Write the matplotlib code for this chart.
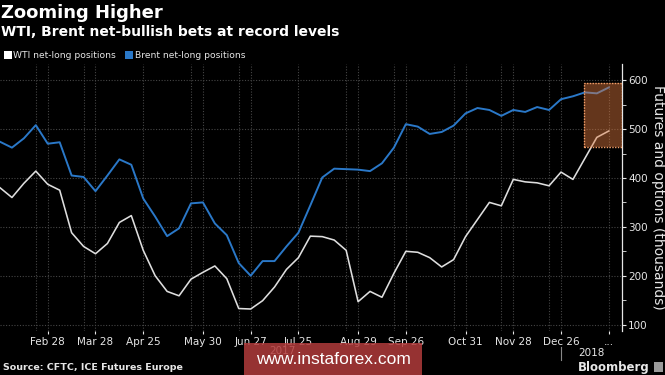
import matplotlib
matplotlib.use('Agg')
import matplotlib.pyplot as plt
import matplotlib.dates as mdates
from matplotlib.patches import Rectangle
import pandas as pd

# weekly CFTC / ICE positions, thousands of contracts
weeks = pd.date_range('2017-01-31', periods=52, freq='7D')
wti = [380, 360, 389, 414, 387, 375, 288, 260, 245, 266, 309, 323, 252,
       200, 168, 159, 193, 207, 220, 194, 133, 132, 149, 177, 213, 237,
       281, 280, 273, 252, 147, 168, 156, 205, 250, 248, 237, 218, 233,
       280, 315, 350, 343, 397, 392, 390, 384, 412, 397, 440, 483, 496]
brent = [474, 462, 481, 508, 470, 473, 405, 402, 373, 405, 438, 427, 358,
         321, 281, 297, 348, 350, 307, 283, 226, 200, 230, 230, 260, 288,
         344, 401, 419, 418, 417, 414, 430, 462, 510, 505, 490, 494, 507,
         532, 543, 539, 527, 539, 535, 545, 539, 561, 567, 575, 573, 585]

tick_dates = ['2017-02-28', '2017-03-28', '2017-04-25', '2017-05-30', '2017-06-27',
              '2017-07-25', '2017-08-29', '2017-09-26', '2017-10-31', '2017-11-28',
              '2017-12-26', '2018-01-23']
tick_labels = ['Feb 28', 'Mar 28', 'Apr 25', 'May 30', 'Jun 27', 'Jul 25',
               'Aug 29', 'Sep 26', 'Oct 31', 'Nov 28', 'Dec 26', '...']
extra_grid = ['2017-02-21', '2017-03-21', '2017-05-23', '2017-06-20', '2017-08-22',
              '2017-09-19', '2017-10-24', '2017-11-21', '2017-12-19']

BG = 'black'
FG = '#e6e6e6'
GRID = '#454545'
BLUE = '#2a78c8'
WHITE_LINE = '#dedede'

fig = plt.figure(figsize=(6.65, 3.75), dpi=100, facecolor=BG)
ax = fig.add_axes([0.0, 0.1173, 0.9353, 0.7120], facecolor=BG)

ax.plot(weeks, wti, color=WHITE_LINE, lw=1.15, zorder=3)
ax.plot(weeks, brent, color=BLUE, lw=1.4, zorder=3)

ax.set_xlim(pd.Timestamp('2017-01-31'), pd.Timestamp('2018-01-30 18:00'))
ax.set_ylim(87, 633)

# grid
for v in range(100, 700, 100):
    ax.axhline(v, color=GRID, lw=0.8, ls=(0, (1, 1.5)), zorder=1)
for d in tick_dates + extra_grid:
    ax.axvline(pd.Timestamp(d), color=GRID, lw=0.8, ls=(0, (1, 1.5)), zorder=1)

ax.set_xticks([pd.Timestamp(d) for d in tick_dates])
ax.set_xticklabels(tick_labels)
ax.tick_params(axis='x', colors=FG, labelsize=7.5, length=2.5, pad=2)

ax.yaxis.tick_right()
ax.set_yticks(range(100, 700, 100))
ax.set_yticks(range(150, 650, 100), minor=True)
ax.tick_params(axis='y', which='both', colors=FG, labelsize=7.5, length=3, pad=1.5)
ax.yaxis.set_label_position('right')
ax.set_ylabel('Futures and options (thousands)', color=FG, fontsize=10,
              rotation=270, labelpad=12)

for s in ['top', 'left', 'bottom']:
    ax.spines[s].set_visible(False)
ax.spines['right'].set_color(FG)
ax.spines['right'].set_linewidth(0.9)

# highlight box on latest weeks
x0 = mdates.date2num(pd.Timestamp('2018-01-08 15:00'))
x1 = mdates.date2num(pd.Timestamp('2018-01-30 18:00'))
ax.add_patch(Rectangle((x0, 463), x1 - x0, 132, facecolor='#e07a3f', alpha=0.45,
                       edgecolor='none', zorder=4))
ax.add_patch(Rectangle((x0, 463), x1 - x0, 132, facecolor='none',
                       edgecolor='#f4a06a', lw=1.0, ls=(0, (1, 1)), zorder=5))

# titles and legend
fig.text(0.002, 1 - 13 / 375, 'Zooming Higher', color='white', fontsize=13,
         fontweight='bold', va='center', ha='left')
fig.text(0.002, 1 - 32 / 375, 'WTI, Brent net-bullish bets at record levels', color='white',
         fontsize=10, fontweight='bold', va='center', ha='left')
fig.patches.append(Rectangle((4 / 665, 1 - 59 / 375), 8 / 665, 8 / 375,
                             transform=fig.transFigure, facecolor='white'))
fig.text(13 / 665, 1 - 55 / 375, 'WTI net-long positions', color=FG, fontsize=6.6,
         va='center', ha='left')
fig.patches.append(Rectangle((125 / 665, 1 - 59 / 375), 8 / 665, 8 / 375,
                             transform=fig.transFigure, facecolor=BLUE))
fig.text(135 / 665, 1 - 55 / 375, 'Brent net-long positions', color=FG, fontsize=6.6,
         va='center', ha='left')

# year labels
fig.text(282 / 665, 1 - 351 / 375, '2017', color=FG, fontsize=7.5, ha='center', va='center')
fig.text(591 / 665, 1 - 353 / 375, '2018', color=FG, fontsize=7.5, ha='center', va='center')
fig.lines.append(plt.Line2D([561 / 665, 561 / 665], [1 - 347 / 375, 1 - 360 / 375],
                            transform=fig.transFigure, color='#888888', lw=0.8))

# footer
fig.text(3 / 665, 1 - 367 / 375, 'Source: CFTC, ICE Futures Europe', color=FG,
         fontsize=6.8, fontweight='bold', ha='left', va='center')
fig.text(650 / 665, 1 - 367 / 375, 'Bloomberg', color=FG, fontsize=8.5,
         fontweight='bold', ha='right', va='center')
fig.patches.append(Rectangle((654 / 665, 1 - 372 / 375), 9 / 665, 10 / 375,
                             transform=fig.transFigure, facecolor='#9a9a9a'))

# watermark
fig.patches.append(Rectangle((244 / 665, 0), 178 / 665, 32 / 375,
                             transform=fig.transFigure, facecolor='#b23b3b',
                             alpha=0.85, zorder=10))
fig.text(333 / 665, 1 - 359 / 375, 'www.instaforex.com', color='white',
         family='Liberation Sans', fontsize=12.5, ha='center', va='center', zorder=11)

fig.savefig('out.png', dpi=100, facecolor=BG)
